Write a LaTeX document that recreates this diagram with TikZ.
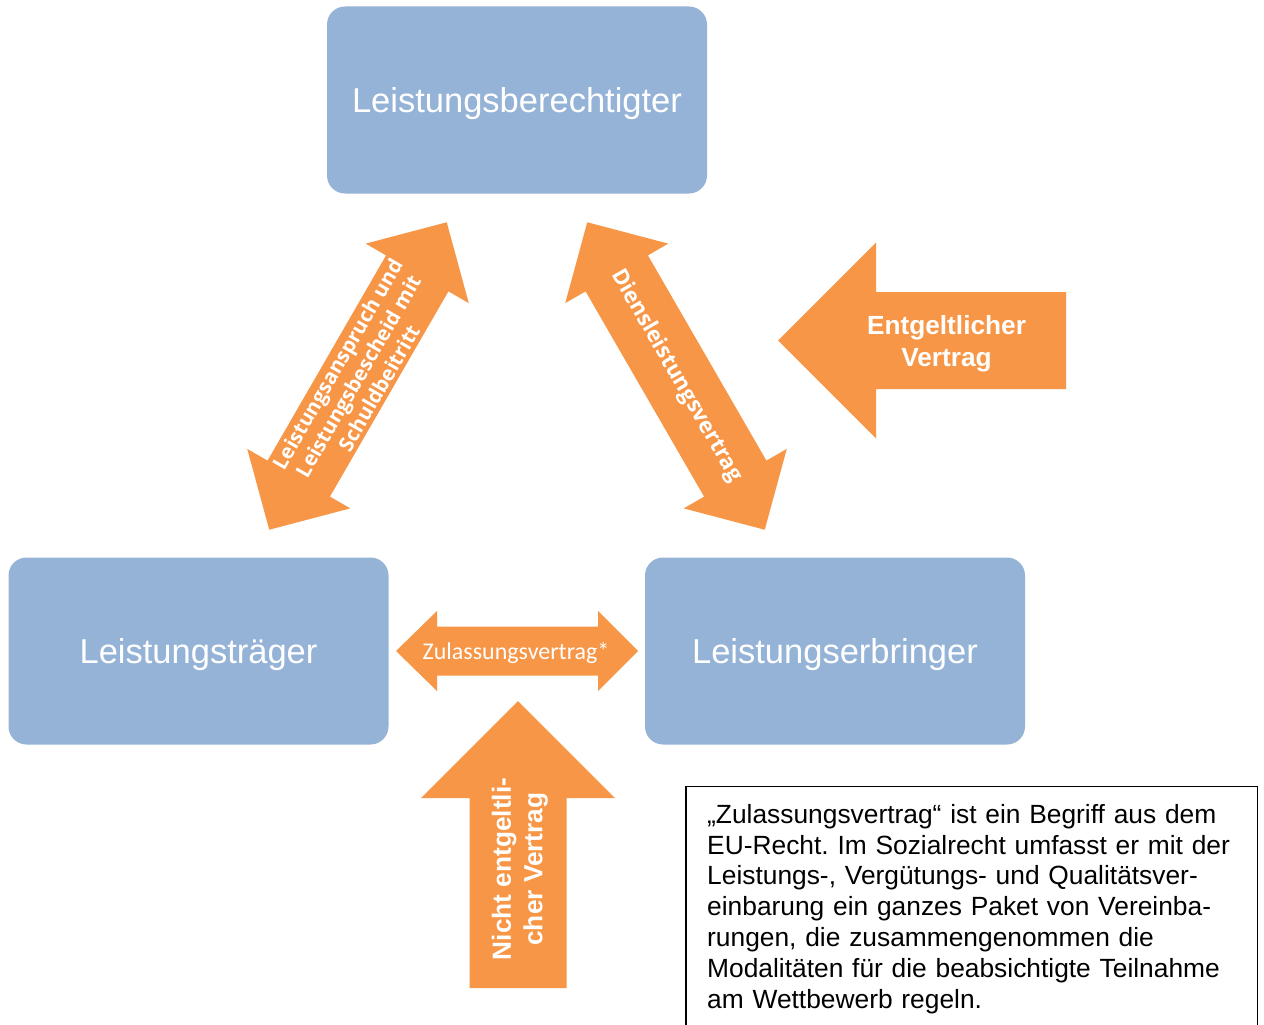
\documentclass[tikz,border=0pt]{standalone}
\usepackage{fontspec}
\setmainfont{Liberation Sans}
\newfontfamily\osans{Open Sans}
\newfontfamily\calib{Carlito}
\definecolor{boxblue}{HTML}{95B3D7}
\definecolor{arrorange}{HTML}{F79646}
% #1 cx, #2 cy, #3 angle, #4 half length, #5 head length, #6 half shaft, #7 half head
\newcommand\blockdbl[7]{%
  \fill[arrorange,shift={(#1,#2)},rotate=#3]
    ({-#4},0) -- ({-#4+#5},{#7}) -- ({-#4+#5},{#6}) -- ({#4-#5},{#6}) -- ({#4-#5},{#7})
    -- ({#4},0) -- ({#4-#5},{-#7}) -- ({#4-#5},{-#6}) -- ({-#4+#5},{-#6}) -- ({-#4+#5},{-#7}) -- cycle;}
\frenchspacing
\begin{document}
\begin{tikzpicture}[x=1pt,y=-1pt,
  entity/.style={fill=boxblue, rounded corners=18pt, minimum width=380pt, minimum height=187pt,
    inner sep=0pt, text=white, text depth=0pt, font=\fontsize{34.5}{40}\selectfont},
  arrlabel/.style={text=white, inner sep=0pt, align=center},
  diaglabel/.style={arrlabel, font=\osans\bfseries\fontsize{20.5}{24}\selectfont},
  boldlabel/.style={arrlabel, font=\bfseries\fontsize{26.25}{31.5}\selectfont}]
\useasboundingbox (0,0) rectangle (1264,1025);
\fill[white] (0,0) rectangle (1264,1025);

% entity boxes
\node[entity] (lb) at (517,100) {Leistungsberechtigter};
\node[entity] (lt) at (198.5,651) {Leistungsträger};
\node[entity] (le) at (835,651) {Leistungserbringer};

% diagonal double arrows
\blockdbl{358}{376}{60}{177.5}{59}{36}{59.5}
\blockdbl{676}{376}{120}{177.5}{59}{36}{59.5}
\node[diaglabel, rotate=60] (la) at (358,376) {Leistungsanspruch und\\Leistungsbescheid mit\\Schuldbeitritt};
\node[diaglabel, font=\osans\bfseries\fontsize{22}{26}\selectfont, rotate=-60] (dv) at (676.5,376) {Diensleistungsvertrag};

% horizontal double arrow
\fill[arrorange] (396,651) -- (437,611) -- (437,626.5) -- (598,626.5) -- (598,611) -- (638,651)
  -- (598,691) -- (598,675.5) -- (437,675.5) -- (437,691) -- cycle;
\node[arrlabel, text depth=0pt, font=\calib\fontsize{24}{28}\selectfont] (zv) at (516,651) {Zulassungsvertrag*};

% up arrow
\fill[arrorange] (518,701) -- (615,798) -- (566.5,798) -- (566.5,988) -- (469.5,988) -- (469.5,798) -- (421,798) -- cycle;
\node[boldlabel, rotate=90] (nev) at (520,869) {Nicht entgeltli-\\cher Vertrag};

% left arrow
\fill[arrorange] (778,340.5) -- (876,242.5) -- (876,292) -- (1066,292) -- (1066,389) -- (876,389) -- (876,438.5) -- cycle;
\node[boldlabel] (ev) at (946.5,344) {Entgeltlicher\\Vertrag};

% note box
\draw[line width=1.5pt] (686,1040) -- (686,786.5) -- (1257.5,786.5) -- (1257.5,1040);
\node[anchor=base west, text width=550pt, align=left, inner sep=0pt,
  font=\fontsize{26.35}{30.8}\selectfont] (note) at (707,823.3)
  {„Zulassungsvertrag“ ist ein Begriff aus dem\\
   EU-Recht. Im Sozialrecht umfasst er mit der\\
   Leistungs-, Vergütungs- und Qualitätsver-\\
   einbarung ein ganzes Paket von Vereinba-\\
   rungen, die zusammengenommen die\\
   Modalitäten für die beabsichtigte Teilnahme\\
   am Wettbewerb regeln.};
\end{tikzpicture}
\end{document}
